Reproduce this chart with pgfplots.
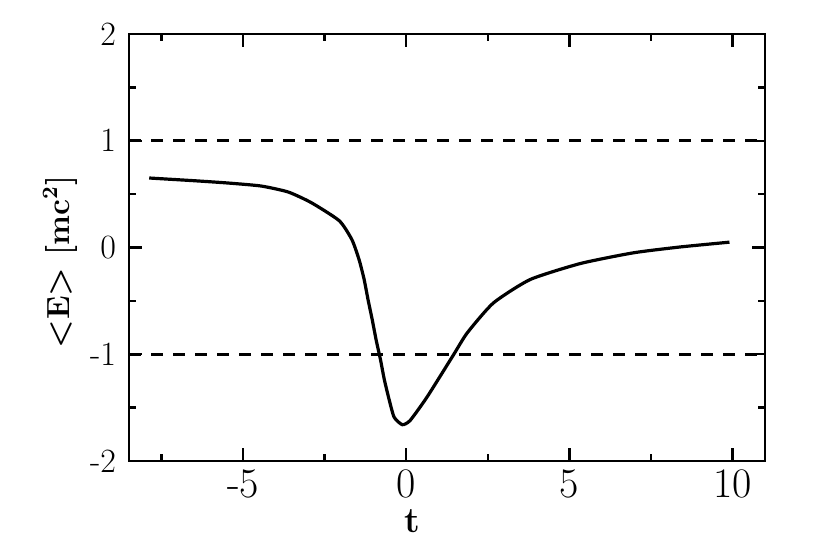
\documentclass[border=0pt]{standalone}
\usepackage{pgfplots}
\pgfplotsset{compat=1.18}
\begin{document}
\begin{tikzpicture}
\begin{axis}[
  at={(0,0)}, anchor=south west,
  scale only axis, width=318pt, height=213.5pt,
  xmin=-8.5, xmax=11, ymin=-2, ymax=2,
  xtick={-5,0,5,10}, xticklabels={{-5},{0},{5},{10}},
  minor xtick={-7.5,-2.5,2.5,7.5},
  ytick={-2,-1,0,1,2}, yticklabels={{-2},{-1},{0},{1},{2}},
  minor ytick={-1.5,-0.5,0.5,1.5},
  tick align=inside,
  major tick length=6.5pt, minor tick length=3.5pt,
  axis line style={line width=1.4pt},
  every tick/.style={black, line width=1.2pt},
  xticklabel style={font=\fontsize{21}{24}\selectfont, yshift=-1pt},
  yticklabel style={font=\fontsize{17}{20}\selectfont, xshift=-3pt},
  clip=false,
]
\addplot[black, line width=1.3pt, dash pattern=on 6pt off 5pt] coordinates {(-8.5,1) (11,1)};
\addplot[black, line width=1.3pt, dash pattern=on 6pt off 5pt] coordinates {(-8.5,-1) (11,-1)};
\addplot[black, line width=1.6pt, smooth, tension=0.35] coordinates {
(-7.88,0.651) (-6.47,0.625) (-5.46,0.604) (-4.45,0.576) (-3.62,0.52)
(-2.91,0.42) (-2.05,0.25) (-1.66,0.07) (-1.44,-0.12) (-1.29,-0.30)
(-1.17,-0.49) (-1.04,-0.68) (-0.92,-0.87) (-0.79,-1.05) (-0.67,-1.24)
(-0.52,-1.43) (-0.37,-1.59) (-0.12,-1.66) (0.12,-1.62)
(0.64,-1.40) (1.44,-1.01) (1.87,-0.80) (2.67,-0.52) (3.80,-0.30)
(5.34,-0.15) (6.96,-0.05) (8.40,0.005) (9.91,0.05)
};
\node[rotate=90, anchor=center, font=\fontsize{16}{19}\selectfont\bfseries] at (axis description cs:-0.108,0.466) {\textless E\textgreater\ [mc$^{\mathbf{2}}$]};
\node[anchor=center, inner sep=0pt, font=\fontsize{18}{20}\selectfont\bfseries] at (axis description cs:0.445,-0.142) {t};
\end{axis}
\pgfresetboundingbox
\useasboundingbox (-64.5pt,-39.5pt) rectangle (350.5pt,230.5pt);
\end{tikzpicture}
\end{document}
